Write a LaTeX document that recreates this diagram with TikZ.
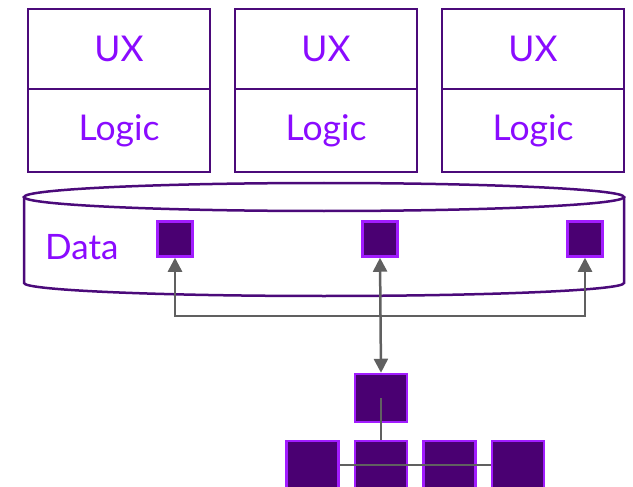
\documentclass[tikz,border=0pt]{standalone}
\usepackage{fontspec}
\setmainfont{Lato}
\usetikzlibrary{positioning,arrows.meta}
\definecolor{frame}{HTML}{4B0A7A}
\definecolor{txtviolet}{HTML}{8A0BFF}
\definecolor{datfill}{HTML}{4A0072}
\definecolor{edge}{HTML}{A21CFF}
\definecolor{linkgray}{HTML}{606060}

\begin{document}
\begin{tikzpicture}[x=1pt, y=-1pt,
						cell/.style={rectangle, draw=frame, line width=2.5pt, minimum width=182pt, minimum height=80pt, inner sep=0pt, outer sep=0pt, text=txtviolet, font=\fontsize{35.5}{42}\selectfont},
						datum/.style={rectangle, fill=datfill, draw=edge, line width=2.5pt, minimum size=35pt, inner sep=0pt},
						unit/.style={datum, minimum width=52pt, minimum height=48pt},
						link/.style={draw=linkgray, line width=2.5pt},
						branch/.style={draw=linkgray, line width=1.5pt},
						tip/.style={{Triangle[length=14pt,width=14pt]}-{Triangle[length=14pt,width=14pt]}}
					]
					\useasboundingbox (0,0) rectangle (633,487);
					% app stacks
					\node[cell] (ux1) at (119,49) {UX};
					\node[cell, minimum height=83pt] (logic1) [below=0pt of ux1] {Logic};
					\node[cell] (ux2) [right=25pt of ux1] {UX};
					\node[cell, minimum height=83pt] (logic2) [below=0pt of ux2] {Logic};
					\node[cell] (ux3) [right=25pt of ux2] {UX};
					\node[cell, minimum height=83pt] (logic3) [below=0pt of ux3] {Logic};
					% shared store
					\draw[frame, line width=2.5pt, fill=white] (24,197) -- (24,283) arc[start angle=180, end angle=0, x radius=300, y radius=13] -- (624,197);
					\draw[frame, line width=2.5pt] (324,197) ellipse [x radius=300, y radius=14];
					\node[text=txtviolet, font=\fontsize{35}{42}\selectfont, anchor=west, inner sep=0pt] (dlabel) at (45,247) {Data};
					\node[datum] (d1) at (175,239) {};
					\node[datum] (d2) at (380,239) {};
					\node[datum] (d3) at (585,239) {};
					% service tree
					\node[unit] (t0) at (381,398) {};
					\node[unit] (b2) at (381,465) {};
					\node[unit] (b1) [left=14pt of b2] {};
					\node[unit] (b3) [right=14pt of b2] {};
					\node[unit] (b4) [right=14pt of b3] {};
					\draw[branch] (t0.center) -- (b2.north);
					\draw[branch] (b1.east) -- (b4.west);
					% connectors
					\coordinate (busL) at (175,316);
					\coordinate (busR) at (585,316);
					\draw[link, tip] (d1.south) -- (busL) -- (busR) -- (d3.south);
					\draw[link, tip] (d2.south) -- (t0.north);
\end{tikzpicture}
\end{document}
